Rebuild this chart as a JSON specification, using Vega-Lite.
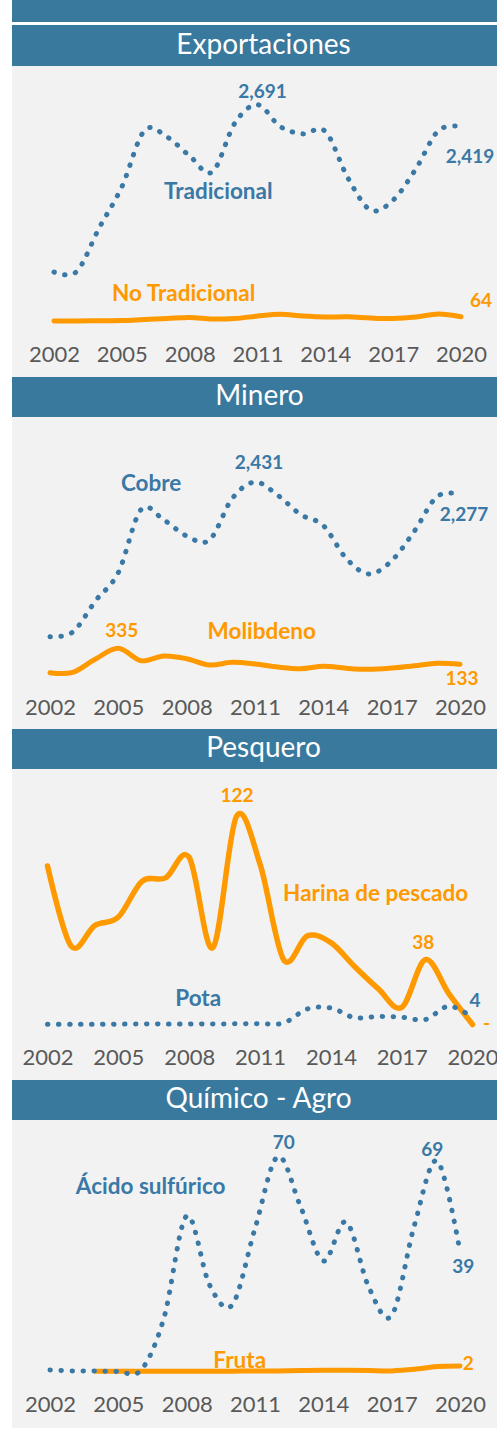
{
"$schema": "https://vega.github.io/schema/vega-lite/v6.json",
"background": "white",
"padding": {"left": 12, "top": 0, "right": 0, "bottom": 0},
"config": {"view": {"stroke": null}, "font": "Lato"},
"datasets": {
"exp": [
{"serie":"Tradicional","anio":2002,"valor":618},{"serie":"Tradicional","anio":2003,"valor":624},{"serie":"Tradicional","anio":2004,"valor":1165},{"serie":"Tradicional","anio":2005,"valor":1673},{"serie":"Tradicional","anio":2006,"valor":2371},{"serie":"Tradicional","anio":2007,"valor":2291},{"serie":"Tradicional","anio":2008,"valor":2056},{"serie":"Tradicional","anio":2009,"valor":1857},{"serie":"Tradicional","anio":2010,"valor":2464},{"serie":"Tradicional","anio":2011,"valor":2691},{"serie":"Tradicional","anio":2012,"valor":2421},{"serie":"Tradicional","anio":2013,"valor":2330},{"serie":"Tradicional","anio":2014,"valor":2360},{"serie":"Tradicional","anio":2015,"valor":1783},{"serie":"Tradicional","anio":2016,"valor":1386},{"serie":"Tradicional","anio":2017,"valor":1510},{"serie":"Tradicional","anio":2018,"valor":1894},{"serie":"Tradicional","anio":2019,"valor":2370},{"serie":"Tradicional","anio":2020,"valor":2419},
{"serie":"No Tradicional","anio":2002,"valor":11},{"serie":"No Tradicional","anio":2003,"valor":11},{"serie":"No Tradicional","anio":2004,"valor":14},{"serie":"No Tradicional","anio":2005,"valor":17},{"serie":"No Tradicional","anio":2006,"valor":30},{"serie":"No Tradicional","anio":2007,"valor":42},{"serie":"No Tradicional","anio":2008,"valor":55},{"serie":"No Tradicional","anio":2009,"valor":36},{"serie":"No Tradicional","anio":2010,"valor":42},{"serie":"No Tradicional","anio":2011,"valor":73},{"serie":"No Tradicional","anio":2012,"valor":94},{"serie":"No Tradicional","anio":2013,"valor":73},{"serie":"No Tradicional","anio":2014,"valor":61},{"serie":"No Tradicional","anio":2015,"valor":63},{"serie":"No Tradicional","anio":2016,"valor":48},{"serie":"No Tradicional","anio":2017,"valor":42},{"serie":"No Tradicional","anio":2018,"valor":61},{"serie":"No Tradicional","anio":2019,"valor":98},{"serie":"No Tradicional","anio":2020,"valor":64}
],
"min": [
{"serie":"Cobre","anio":2002,"valor":481},{"serie":"Cobre","anio":2003,"valor":540},{"serie":"Cobre","anio":2004,"valor":934},{"serie":"Cobre","anio":2005,"valor":1291},{"serie":"Cobre","anio":2006,"valor":2085},{"serie":"Cobre","anio":2007,"valor":1953},{"serie":"Cobre","anio":2008,"valor":1751},{"serie":"Cobre","anio":2009,"valor":1700},{"serie":"Cobre","anio":2010,"valor":2224},{"serie":"Cobre","anio":2011,"valor":2431},{"serie":"Cobre","anio":2012,"valor":2265},{"serie":"Cobre","anio":2013,"valor":2022},{"serie":"Cobre","anio":2014,"valor":1883},{"serie":"Cobre","anio":2015,"valor":1470},{"serie":"Cobre","anio":2016,"valor":1272},{"serie":"Cobre","anio":2017,"valor":1439},{"serie":"Cobre","anio":2018,"valor":1814},{"serie":"Cobre","anio":2019,"valor":2250},{"serie":"Cobre","anio":2020,"valor":2277},
{"serie":"Molibdeno","anio":2002,"valor":27},{"serie":"Molibdeno","anio":2003,"valor":32},{"serie":"Molibdeno","anio":2004,"valor":200},{"serie":"Molibdeno","anio":2005,"valor":335},{"serie":"Molibdeno","anio":2006,"valor":178},{"serie":"Molibdeno","anio":2007,"valor":238},{"serie":"Molibdeno","anio":2008,"valor":204},{"serie":"Molibdeno","anio":2009,"valor":124},{"serie":"Molibdeno","anio":2010,"valor":158},{"serie":"Molibdeno","anio":2011,"valor":137},{"serie":"Molibdeno","anio":2012,"valor":99},{"serie":"Molibdeno","anio":2013,"valor":78},{"serie":"Molibdeno","anio":2014,"valor":108},{"serie":"Molibdeno","anio":2015,"valor":83},{"serie":"Molibdeno","anio":2016,"valor":70},{"serie":"Molibdeno","anio":2017,"valor":86},{"serie":"Molibdeno","anio":2018,"valor":114},{"serie":"Molibdeno","anio":2019,"valor":146},{"serie":"Molibdeno","anio":2020,"valor":133}
],
"pes": [
{"serie":"Harina de pescado","anio":2002,"valor":93},{"serie":"Harina de pescado","anio":2003,"valor":46},{"serie":"Harina de pescado","anio":2004,"valor":58},{"serie":"Harina de pescado","anio":2005,"valor":63},{"serie":"Harina de pescado","anio":2006,"valor":84},{"serie":"Harina de pescado","anio":2007,"valor":86},{"serie":"Harina de pescado","anio":2008,"valor":98},{"serie":"Harina de pescado","anio":2009,"valor":45},{"serie":"Harina de pescado","anio":2010,"valor":122},{"serie":"Harina de pescado","anio":2011,"valor":94},{"serie":"Harina de pescado","anio":2012,"valor":38},{"serie":"Harina de pescado","anio":2013,"valor":52},{"serie":"Harina de pescado","anio":2014,"valor":48},{"serie":"Harina de pescado","anio":2015,"valor":34},{"serie":"Harina de pescado","anio":2016,"valor":21},{"serie":"Harina de pescado","anio":2017,"valor":10},{"serie":"Harina de pescado","anio":2018,"valor":38},{"serie":"Harina de pescado","anio":2019,"valor":18},{"serie":"Harina de pescado","anio":2020,"valor":0},
{"serie":"Pota","anio":2002,"valor":0.2},{"serie":"Pota","anio":2003,"valor":0.2},{"serie":"Pota","anio":2004,"valor":0.2},{"serie":"Pota","anio":2005,"valor":0.2},{"serie":"Pota","anio":2006,"valor":0.3},{"serie":"Pota","anio":2007,"valor":0.3},{"serie":"Pota","anio":2008,"valor":0.3},{"serie":"Pota","anio":2009,"valor":0.3},{"serie":"Pota","anio":2010,"valor":0.4},{"serie":"Pota","anio":2011,"valor":0.5},{"serie":"Pota","anio":2012,"valor":0.9},{"serie":"Pota","anio":2013,"valor":9.1},{"serie":"Pota","anio":2014,"valor":9.7},{"serie":"Pota","anio":2015,"valor":4},{"serie":"Pota","anio":2016,"valor":4.7},{"serie":"Pota","anio":2017,"valor":4.3},{"serie":"Pota","anio":2018,"valor":2.9},{"serie":"Pota","anio":2019,"valor":10.8},{"serie":"Pota","anio":2020,"valor":4}
],
"qui": [
{"serie":"Ácido sulfúrico","anio":2002,"valor":0.5},{"serie":"Ácido sulfúrico","anio":2003,"valor":0.2},{"serie":"Ácido sulfúrico","anio":2004,"valor":0.2},{"serie":"Ácido sulfúrico","anio":2005,"valor":0},{"serie":"Ácido sulfúrico","anio":2006,"valor":0.5},{"serie":"Ácido sulfúrico","anio":2007,"valor":17.4},{"serie":"Ácido sulfúrico","anio":2008,"valor":50.7},{"serie":"Ácido sulfúrico","anio":2009,"valor":28.3},{"serie":"Ácido sulfúrico","anio":2010,"valor":21.7},{"serie":"Ácido sulfúrico","anio":2011,"valor":46.6},{"serie":"Ácido sulfúrico","anio":2012,"valor":70},{"serie":"Ácido sulfúrico","anio":2013,"valor":53.7},{"serie":"Ácido sulfúrico","anio":2014,"valor":36},{"serie":"Ácido sulfúrico","anio":2015,"valor":48.7},{"serie":"Ácido sulfúrico","anio":2016,"valor":27.4},{"serie":"Ácido sulfúrico","anio":2017,"valor":18.2},{"serie":"Ácido sulfúrico","anio":2018,"valor":47.7},{"serie":"Ácido sulfúrico","anio":2019,"valor":68.6},{"serie":"Ácido sulfúrico","anio":2020,"valor":39},
{"serie":"Fruta","anio":2004,"valor":0.1},{"serie":"Fruta","anio":2005,"valor":0.1},{"serie":"Fruta","anio":2006,"valor":0.1},{"serie":"Fruta","anio":2007,"valor":0.1},{"serie":"Fruta","anio":2008,"valor":0.1},{"serie":"Fruta","anio":2009,"valor":0.1},{"serie":"Fruta","anio":2010,"valor":0.1},{"serie":"Fruta","anio":2011,"valor":0.2},{"serie":"Fruta","anio":2012,"valor":0.2},{"serie":"Fruta","anio":2013,"valor":0.3},{"serie":"Fruta","anio":2014,"valor":0.4},{"serie":"Fruta","anio":2015,"valor":0.4},{"serie":"Fruta","anio":2016,"valor":0.3},{"serie":"Fruta","anio":2017,"valor":0.2},{"serie":"Fruta","anio":2018,"valor":0.7},{"serie":"Fruta","anio":2019,"valor":1.6},{"serie":"Fruta","anio":2020,"valor":1.8}
]
},
"spacing": 3,
"vconcat": [
{"width": 485, "height": 22, "view": {"fill": "#3a799e", "stroke": null}, "data": {"values": [{"t": ""}]}, "mark": {"type": "text", "color": "white"}, "encoding": {"text": {"field": "t"}}},
{"spacing": 0, "vconcat": [
{"width": 485, "height": 41, "view": {"fill": "#3a799e", "stroke": null}, "data": {"values": [{"t": "Exportaciones"}]}, "mark": {"type": "text", "color": "white", "font": "Lato", "fontSize": 28, "fontWeight": 400, "dx": 9, "baseline": "middle"}, "encoding": {"text": {"field": "t"}}},
{"width": 485, "height": 311, "view": {"fill": "#f2f2f2", "stroke": null}, "data": {"name": "exp"},
 "encoding": {
  "x": {"field": "anio", "type": "quantitative", "scale": {"domain": [2000.1425, 2021.592], "nice": false, "zero": false}, "axis": {"values": [2002,2005,2008,2011,2014,2017,2020], "format": "d", "title": null, "domain": false, "ticks": false, "tickSize": 0, "grid": false, "labelFont": "Lato", "labelFontSize": 22, "labelColor": "#595959", "labelPadding": 0, "labelBaseline": "middle", "offset": -23, "labelFlush": false, "labelOverlap": false}},
  "y": {"field": "valor", "type": "quantitative", "scale": {"domain": [-682.7, 3170.6], "nice": false, "zero": false}, "axis": null}
 },
 "layer": [
  {"transform": [{"filter": "datum.serie == 'No Tradicional'"}], "mark": {"type": "line", "interpolate": "cardinal", "color": "#ff9900", "strokeWidth": 5, "strokeCap": "round"}},
  {"transform": [{"filter": "datum.serie == 'Tradicional'"}], "mark": {"type": "line", "interpolate": "cardinal", "color": "#3a78a5", "strokeWidth": 5, "strokeCap": "round", "strokeDash": [0.5, 10.5]}},
  {"transform": [{"filter": "datum.serie == 'Tradicional' && datum.anio == 2011"}], "mark": {"type": "text", "color": "#3a78a5", "fontSize": 19, "fontWeight": "bold", "dx": 5, "dy": -13, "baseline": "middle"}, "encoding": {"text": {"field": "valor", "type": "quantitative", "format": ",.0f"}}},
  {"transform": [{"filter": "datum.serie == 'Tradicional' && datum.anio == 2020"}], "mark": {"type": "text", "color": "#3a78a5", "fontSize": 19, "fontWeight": "bold", "dx": 9, "dy": 30, "baseline": "middle"}, "encoding": {"text": {"field": "valor", "type": "quantitative", "format": ",.0f"}}},
  {"transform": [{"filter": "datum.serie == 'Tradicional' && datum.anio == 2009"}], "mark": {"type": "text", "color": "#3a78a5", "fontSize": 22.5, "fontWeight": "bold", "dx": 6, "dy": 19.5, "baseline": "middle"}, "encoding": {"text": {"field": "serie"}}},
  {"transform": [{"filter": "datum.serie == 'No Tradicional' && datum.anio == 2008"}], "mark": {"type": "text", "color": "#ff9900", "fontSize": 22.5, "fontWeight": "bold", "dx": -6, "dy": -23, "baseline": "middle"}, "encoding": {"text": {"field": "serie"}}},
  {"transform": [{"filter": "datum.serie == 'No Tradicional' && datum.anio == 2020"}], "mark": {"type": "text", "color": "#ff9900", "fontSize": 19, "fontWeight": "bold", "dx": 20, "dy": -15.7, "baseline": "middle"}, "encoding": {"text": {"field": "valor", "type": "quantitative", "format": ",.0f"}}}
 ]
},
{"width": 485, "height": 40, "view": {"fill": "#3a799e", "stroke": null}, "data": {"values": [{"t": "Minero"}]}, "mark": {"type": "text", "color": "white", "font": "Lato", "fontSize": 28, "fontWeight": 400, "dx": 5, "baseline": "middle"}, "encoding": {"text": {"field": "t"}}},
{"width": 485, "height": 312, "view": {"fill": "#f2f2f2", "stroke": null}, "data": {"name": "min"},
 "encoding": {
  "x": {"field": "anio", "type": "quantitative", "scale": {"domain": [2000.3317, 2021.6242], "nice": false, "zero": false}, "axis": {"values": [2002,2005,2008,2011,2014,2017,2020], "format": "d", "title": null, "domain": false, "ticks": false, "tickSize": 0, "grid": false, "labelFont": "Lato", "labelFontSize": 22, "labelColor": "#595959", "labelPadding": 0, "labelBaseline": "middle", "offset": -22, "labelFlush": false, "labelOverlap": false}},
  "y": {"field": "valor", "type": "quantitative", "scale": {"domain": [-682.8, 3251.5], "nice": false, "zero": false}, "axis": null}
 },
 "layer": [
  {"transform": [{"filter": "datum.serie == 'Molibdeno'"}], "mark": {"type": "line", "interpolate": "cardinal", "color": "#ff9900", "strokeWidth": 5, "strokeCap": "round"}},
  {"transform": [{"filter": "datum.serie == 'Cobre'"}], "mark": {"type": "line", "interpolate": "cardinal", "color": "#3a78a5", "strokeWidth": 5, "strokeCap": "round", "strokeDash": [0.5, 10.5]}},
  {"transform": [{"filter": "datum.serie == 'Cobre' && datum.anio == 2011"}], "mark": {"type": "text", "color": "#3a78a5", "fontSize": 19, "fontWeight": "bold", "dx": 4, "dy": -19.4, "baseline": "middle"}, "encoding": {"text": {"field": "valor", "type": "quantitative", "format": ",.0f"}}},
  {"transform": [{"filter": "datum.serie == 'Cobre' && datum.anio == 2020"}], "mark": {"type": "text", "color": "#3a78a5", "fontSize": 19, "fontWeight": "bold", "dx": 4, "dy": 20.4, "baseline": "middle"}, "encoding": {"text": {"field": "valor", "type": "quantitative", "format": ",.0f"}}},
  {"transform": [{"filter": "datum.serie == 'Cobre' && datum.anio == 2006"}], "mark": {"type": "text", "color": "#3a78a5", "fontSize": 22.5, "fontWeight": "bold", "dx": 10, "dy": -25.7, "baseline": "middle"}, "encoding": {"text": {"field": "serie"}}},
  {"transform": [{"filter": "datum.serie == 'Molibdeno' && datum.anio == 2005"}], "mark": {"type": "text", "color": "#ff9900", "fontSize": 19, "fontWeight": "bold", "dx": 3.4, "dy": -17, "baseline": "middle"}, "encoding": {"text": {"field": "valor", "type": "quantitative", "format": ",.0f"}}},
  {"transform": [{"filter": "datum.serie == 'Molibdeno' && datum.anio == 2011"}], "mark": {"type": "text", "color": "#ff9900", "fontSize": 22.5, "fontWeight": "bold", "dx": 6.7, "dy": -31.7, "baseline": "middle"}, "encoding": {"text": {"field": "serie"}}},
  {"transform": [{"filter": "datum.serie == 'Molibdeno' && datum.anio == 2020"}], "mark": {"type": "text", "color": "#ff9900", "fontSize": 19, "fontWeight": "bold", "dx": 2, "dy": 15, "baseline": "middle"}, "encoding": {"text": {"field": "valor", "type": "quantitative", "format": ",.0f"}}}
 ]
},
{"width": 485, "height": 40, "view": {"fill": "#3a799e", "stroke": null}, "data": {"values": [{"t": "Pesquero"}]}, "mark": {"type": "text", "color": "white", "font": "Lato", "fontSize": 28, "fontWeight": 400, "dx": 9, "baseline": "middle"}, "encoding": {"text": {"field": "t"}}},
{"width": 485, "height": 311, "view": {"fill": "#f2f2f2", "stroke": null}, "data": {"name": "pes"},
 "encoding": {
  "x": {"field": "anio", "type": "quantitative", "scale": {"domain": [2000.4968, 2021.0328], "nice": false, "zero": false}, "axis": {"values": [2002,2005,2008,2011,2014,2017,2020], "format": "d", "title": null, "domain": false, "ticks": false, "tickSize": 0, "grid": false, "labelFont": "Lato", "labelFontSize": 22, "labelColor": "#595959", "labelPadding": 0, "labelBaseline": "middle", "offset": -23, "labelFlush": false, "labelOverlap": false}},
  "y": {"field": "valor", "type": "quantitative", "scale": {"domain": [-32.55, 149.85], "nice": false, "zero": false}, "axis": null}
 },
 "layer": [
  {"transform": [{"filter": "datum.serie == 'Harina de pescado'"}], "mark": {"type": "line", "interpolate": "cardinal", "color": "#ff9900", "strokeWidth": 5.5, "strokeCap": "round"}},
  {"transform": [{"filter": "datum.serie == 'Pota'"}], "mark": {"type": "line", "interpolate": "cardinal", "color": "#3a78a5", "strokeWidth": 5, "strokeCap": "round", "strokeDash": [0.5, 10.5]}},
  {"transform": [{"filter": "datum.serie == 'Harina de pescado' && datum.anio == 2010"}], "mark": {"type": "text", "color": "#ff9900", "fontSize": 19, "fontWeight": "bold", "dx": 0.6, "dy": -20.5, "baseline": "middle"}, "encoding": {"text": {"field": "valor", "type": "quantitative", "format": ",.0f"}}},
  {"transform": [{"filter": "datum.serie == 'Harina de pescado' && datum.anio == 2018"}], "mark": {"type": "text", "color": "#ff9900", "fontSize": 19, "fontWeight": "bold", "dx": -2.2, "dy": -17, "baseline": "middle"}, "encoding": {"text": {"field": "valor", "type": "quantitative", "format": ",.0f"}}},
  {"transform": [{"filter": "datum.serie == 'Harina de pescado' && datum.anio == 2020"}], "mark": {"type": "text", "color": "#ff9900", "fontSize": 19, "fontWeight": "bold", "dx": 14, "dy": -1, "baseline": "middle"}, "encoding": {"text": {"condition": {"test": "datum.valor == 0", "value": "-"}, "field": "valor", "type": "quantitative", "format": ",.0f"}}},
  {"transform": [{"filter": "datum.serie == 'Harina de pescado' && datum.anio == 2014"}], "mark": {"type": "text", "color": "#ff9900", "fontSize": 22.5, "fontWeight": "bold", "dx": 44.7, "dy": -49, "baseline": "middle"}, "encoding": {"text": {"field": "serie"}}},
  {"transform": [{"filter": "datum.serie == 'Pota' && datum.anio == 2008"}], "mark": {"type": "text", "color": "#3a78a5", "fontSize": 22.5, "fontWeight": "bold", "dx": 9, "dy": -25, "baseline": "middle"}, "encoding": {"text": {"field": "serie"}}},
  {"transform": [{"filter": "datum.serie == 'Pota' && datum.anio == 2020"}], "mark": {"type": "text", "color": "#3a78a5", "fontSize": 19, "fontWeight": "bold", "dx": 2.4, "dy": -16.7, "baseline": "middle"}, "encoding": {"text": {"field": "valor", "type": "quantitative", "format": ",.0f"}}}
 ]
},
{"width": 485, "height": 40, "view": {"fill": "#3a799e", "stroke": null}, "data": {"values": [{"t": "Químico - Agro"}]}, "mark": {"type": "text", "color": "white", "font": "Lato", "fontSize": 28, "fontWeight": 400, "dx": 4, "baseline": "middle"}, "encoding": {"text": {"field": "t"}}},
{"width": 485, "height": 308, "view": {"fill": "#f2f2f2", "stroke": null}, "data": {"name": "qui"},
 "encoding": {
  "x": {"field": "anio", "type": "quantitative", "scale": {"domain": [2000.3317, 2021.6242], "nice": false, "zero": false}, "axis": {"values": [2002,2005,2008,2011,2014,2017,2020], "format": "d", "title": null, "domain": false, "ticks": false, "tickSize": 0, "grid": false, "labelFont": "Lato", "labelFontSize": 22, "labelColor": "#595959", "labelPadding": 0, "labelBaseline": "middle", "offset": -23.5, "labelFlush": false, "labelOverlap": false}},
  "y": {"field": "valor", "type": "quantitative", "scale": {"domain": [-18.4, 81.92], "nice": false, "zero": false}, "axis": null}
 },
 "layer": [
  {"transform": [{"filter": "datum.serie == 'Fruta'"}], "mark": {"type": "line", "interpolate": "cardinal", "color": "#ff9900", "strokeWidth": 5, "strokeCap": "round"}},
  {"transform": [{"filter": "datum.serie == 'Ácido sulfúrico'"}], "mark": {"type": "line", "interpolate": "cardinal", "color": "#3a78a5", "strokeWidth": 5, "strokeCap": "round", "strokeDash": [0.5, 10.5]}},
  {"transform": [{"filter": "datum.serie == 'Ácido sulfúrico' && datum.anio == 2012"}], "mark": {"type": "text", "color": "#3a78a5", "fontSize": 19, "fontWeight": "bold", "dx": 6, "dy": -14, "baseline": "middle"}, "encoding": {"text": {"field": "valor", "type": "quantitative", "format": ",.0f"}}},
  {"transform": [{"filter": "datum.serie == 'Ácido sulfúrico' && datum.anio == 2019"}], "mark": {"type": "text", "color": "#3a78a5", "fontSize": 19, "fontWeight": "bold", "dx": -5, "dy": -10.6, "baseline": "middle"}, "encoding": {"text": {"field": "valor", "type": "quantitative", "format": ",.0f"}}},
  {"transform": [{"filter": "datum.serie == 'Ácido sulfúrico' && datum.anio == 2020"}], "mark": {"type": "text", "color": "#3a78a5", "fontSize": 19, "fontWeight": "bold", "dx": 3.3, "dy": 15.5, "baseline": "middle"}, "encoding": {"text": {"field": "valor", "type": "quantitative", "format": ",.0f"}}},
  {"transform": [{"filter": "datum.serie == 'Ácido sulfúrico' && datum.anio == 2008"}], "mark": {"type": "text", "color": "#3a78a5", "fontSize": 22.5, "fontWeight": "bold", "dx": -36, "dy": -29, "baseline": "middle"}, "encoding": {"text": {"field": "serie"}}},
  {"transform": [{"filter": "datum.serie == 'Fruta' && datum.anio == 2011"}], "mark": {"type": "text", "color": "#ff9900", "fontSize": 22.5, "fontWeight": "bold", "dx": -15.3, "dy": -9.4, "baseline": "middle"}, "encoding": {"text": {"field": "serie"}}},
  {"transform": [{"filter": "datum.serie == 'Fruta' && datum.anio == 2020"}], "mark": {"type": "text", "color": "#ff9900", "fontSize": 19, "fontWeight": "bold", "dx": 8.3, "dy": -2.3, "baseline": "middle"}, "encoding": {"text": {"field": "valor", "type": "quantitative", "format": ",.0f"}}}
 ]
}
]}
]
}
